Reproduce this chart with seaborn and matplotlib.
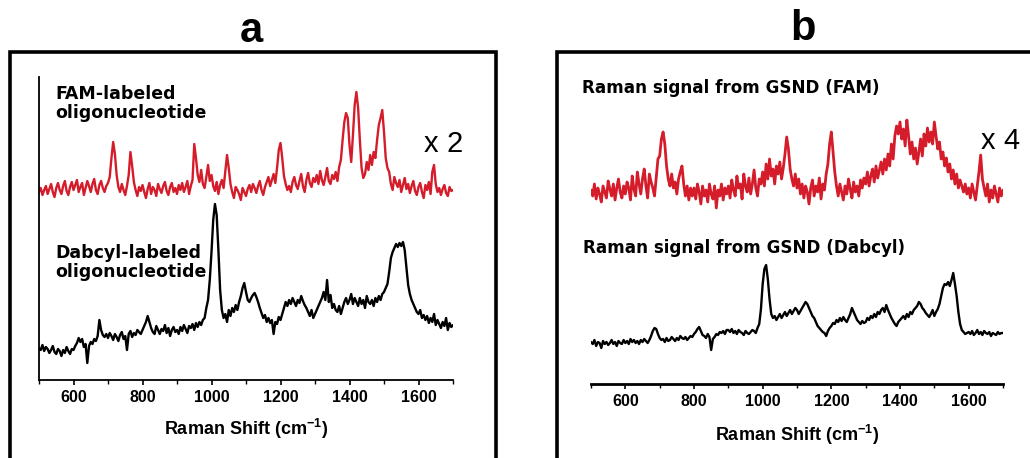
import numpy as np
import pandas as pd
import matplotlib
matplotlib.use("Agg")
import matplotlib.pyplot as plt
from matplotlib.patches import Rectangle
import seaborn as sns

# ---------------- data (Raman shift, cm^-1, step 5) ----------------
shift = list(range(500, 1701, 5))

fam_a = [
    188,192,185,190,194,186,191,196,188,183,192,197,190,186,194,199,189,185,193,198,
    190,195,200,188,193,197,185,192,199,194,188,196,201,190,186,195,199,192,188,194,
    197,203,222,238,226,205,193,188,196,190,185,194,205,228,214,198,190,184,193,189,
    195,188,182,191,197,186,193,190,184,196,191,187,194,198,189,185,193,197,188,192,
    186,195,190,197,188,193,199,186,194,200,236,222,205,198,210,196,192,203,215,199,
    205,194,189,198,186,195,200,192,209,225,212,196,188,182,193,190,186,180,192,188,
    184,191,195,188,196,192,187,194,199,190,185,193,198,203,194,200,206,197,212,230,
    237,222,204,196,190,194,188,198,203,195,191,199,206,194,188,200,207,197,193,202,
    198,205,196,209,200,195,203,212,199,196,205,201,208,199,213,220,240,258,267,262,
    235,218,245,275,288,272,240,212,202,206,218,210,225,215,228,222,240,255,262,270,
    248,222,212,208,196,190,203,197,193,200,188,195,202,191,196,187,194,199,189,185,
    193,197,188,182,195,190,198,186,208,215,196,188,192,185,191,195,187,184,193,189,
    190]

dab_a = [
    32,30,35,29,33,31,27,30,34,28,26,31,29,24,30,27,33,29,26,31,
    30,34,37,42,38,41,33,36,17,34,38,36,41,39,44,60,50,45,43,46,
    42,47,44,40,46,43,39,45,48,41,44,30,46,49,43,47,45,50,48,46,
    50,54,58,64,58,52,48,46,54,50,46,51,49,55,47,52,44,50,53,48,
    50,46,53,49,55,51,47,54,52,56,50,57,53,58,55,60,62,72,80,100,
    128,160,176,165,130,90,70,62,66,58,70,64,72,68,75,70,78,84,92,97,
    88,80,78,82,85,87,83,78,72,67,62,65,58,62,57,60,46,58,56,63,
    60,66,72,78,74,80,76,82,78,74,80,77,84,79,75,72,68,64,70,62,
    66,70,74,78,82,88,80,100,78,85,72,76,70,68,74,66,72,78,82,76,
    80,86,76,82,78,74,82,76,80,72,84,78,76,80,74,82,78,84,80,86,
    88,92,96,108,122,128,132,136,133,137,134,138,130,112,95,86,80,76,72,68,
    66,70,62,65,60,64,57,62,58,66,55,60,56,52,58,54,62,50,57,53,
    55]

fam_b = [
    194,188,200,185,196,190,182,198,192,186,203,195,188,200,184,196,205,192,186,198,
    190,202,196,184,208,195,188,212,200,190,205,215,198,186,210,202,196,188,206,225,
    228,245,252,240,218,205,198,210,196,202,190,205,212,218,200,188,198,184,196,188,
    196,185,200,192,180,198,188,194,182,200,190,185,198,176,194,188,200,184,196,190,
    198,186,204,194,188,208,196,200,185,210,198,192,206,190,200,214,196,188,205,200,
    212,198,220,205,225,208,215,200,218,210,222,205,216,230,247,235,215,205,198,210,
    196,205,190,200,186,198,192,180,196,204,188,198,192,206,185,200,194,210,220,240,
    252,232,212,198,188,200,192,184,198,190,205,195,186,202,192,198,188,204,196,206,
    200,212,198,208,215,202,218,206,214,222,210,225,214,230,218,240,225,248,258,250,
    262,245,255,238,264,248,230,242,225,236,220,232,245,228,250,238,256,242,252,240,
    262,248,235,242,225,232,218,226,212,220,205,214,200,210,196,204,198,192,200,190,
    196,186,200,192,184,198,212,229,205,196,188,200,182,194,186,198,190,182,196,188,
    194]

dab_b = [
    42,40,44,38,42,41,36,43,40,42,39,41,44,40,42,38,43,41,40,44,
    41,43,40,45,42,44,41,43,40,44,42,45,43,41,44,48,53,56,55,50,
    46,44,45,42,46,43,44,47,45,43,46,44,48,46,45,47,44,46,48,47,
    50,52,55,57,53,49,48,46,50,47,34,45,47,50,49,52,51,53,50,54,
    54,52,55,51,53,50,54,52,51,49,53,51,50,52,54,53,51,56,60,75,
    100,115,119,105,85,70,66,68,64,67,70,66,69,72,68,71,74,70,73,76,
    74,70,73,76,79,82,80,76,72,68,66,62,58,56,54,52,51,48,53,56,
    58,61,60,64,62,66,63,67,64,62,66,70,76,72,68,64,62,60,63,61,
    62,66,64,68,66,70,67,72,70,74,76,72,79,74,70,66,63,60,58,62,
    64,66,68,65,70,67,72,70,74,76,78,82,80,76,74,71,69,67,70,74,
    68,72,75,80,88,96,100,99,102,98,104,111,100,88,72,60,54,52,50,51,
    52,50,53,49,51,54,50,52,49,53,51,50,52,48,51,50,49,52,50,51,
    51]

major_ticks = [600, 800, 1000, 1200, 1400, 1600]
minor_ticks = [500, 700, 900, 1100, 1300, 1500, 1700]
xlabel = "Raman Shift (cm$^{\\mathbf{-1}}$)"

# ---------------- figure ----------------
sns.set_style("white")
plt.rcParams['font.family'] = ['Liberation Sans', 'DejaVu Sans']
plt.rcParams['mathtext.fontset'] = 'custom'
plt.rcParams['mathtext.rm'] = 'Liberation Sans:bold'
plt.rcParams['mathtext.bf'] = 'Liberation Sans:bold'
plt.rcParams['text.color'] = 'black'
plt.rcParams['axes.labelcolor'] = 'black'
plt.rcParams['xtick.color'] = 'black'
plt.rcParams['axes.edgecolor'] = 'black'

W, H = 1030, 458
fig = plt.figure(figsize=(W / 100, H / 100), dpi=100)
fig.patch.set_facecolor("white")

def fx(x):
    return x / W

def fy(y):
    return 1 - y / H

RED = "#d41c2a"
ANN = ['DejaVu Sans']

# panel frames
fig.patches.append(Rectangle((fx(10), fy(470)), fx(496) - fx(10), fy(52) - fy(470),
                             transform=fig.transFigure, fill=False, lw=2.6,
                             edgecolor="black", clip_on=False))
fig.patches.append(Rectangle((fx(557), fy(470)), fx(1060) - fx(557), fy(52) - fy(470),
                             transform=fig.transFigure, fill=False, lw=2.6,
                             edgecolor="black", clip_on=False))

# panel letters
fig.text(fx(251), fy(31), "a", ha="center", va="center", fontsize=30, fontweight="bold")
fig.text(fx(803), fy(29), "b", ha="center", va="center", fontsize=30, fontweight="bold")

# ---- panel a ----
ax1 = fig.add_axes([fx(39), fy(380), fx(453) - fx(39), fy(77) - fy(380)])
dfa = pd.DataFrame({"shift": shift, "fam": fam_a, "dab": dab_a})
sns.lineplot(data=dfa, x="shift", y="fam", ax=ax1, color=RED, linewidth=1.7)
sns.lineplot(data=dfa, x="shift", y="dab", ax=ax1, color="black", linewidth=1.7)
ax1.set_xlim(500, 1700)
ax1.set_ylim(0, 303)
ax1.set_facecolor("none")
for s in ["top", "right"]:
    ax1.spines[s].set_visible(False)
ax1.spines["left"].set_linewidth(1.3)
ax1.spines["bottom"].set_linewidth(1.3)
ax1.set_yticks([])
ax1.set_ylabel("")

# ---- panel b ----
ax2 = fig.add_axes([fx(591), fy(384), fx(1003) - fx(591), fy(77) - fy(384)])
dfb = pd.DataFrame({"shift": shift, "fam": fam_b, "dab": dab_b})
sns.lineplot(data=dfb, x="shift", y="fam", ax=ax2, color=RED, linewidth=2.0)
sns.lineplot(data=dfb, x="shift", y="dab", ax=ax2, color="black", linewidth=1.7)
ax2.set_xlim(500, 1700)
ax2.set_ylim(0, 307)
ax2.set_facecolor("none")
for s in ["top", "right", "left"]:
    ax2.spines[s].set_visible(False)
ax2.spines["bottom"].set_linewidth(2.0)
ax2.set_yticks([])
ax2.set_ylabel("")

for ax in (ax1, ax2):
    ax.set_xticks(major_ticks)
    ax.set_xticks(minor_ticks, minor=True)
    ax.tick_params(axis="x", which="major", direction="out", length=3.5, width=1.2,
                   labelsize=11.5, pad=4, bottom=True, colors="black")
    ax.tick_params(axis="x", which="minor", direction="out", length=3, width=1.0,
                   bottom=True, colors="black")
    for lab in ax.get_xticklabels():
        lab.set_fontweight("bold")
    ax.set_xlabel(xlabel, fontsize=13, fontweight="bold", labelpad=8, color="black")
ax2.xaxis.labelpad = 10

# annotations panel a
fig.text(fx(55), fy(85), "FAM-labeled\noligonucleotide", ha="left", va="top",
         fontsize=12.5, fontweight="bold", linespacing=1.1, family=ANN)
fig.text(fx(55), fy(244), "Dabcyl-labeled\noligonucleotide", ha="left", va="top",
         fontsize=12.5, fontweight="bold", linespacing=1.1, family=ANN)
fig.text(fx(424), fy(144), "x", ha="left", va="center", fontsize=21)
fig.text(fx(446), fy(144), "2", ha="left", va="center", fontsize=21)

# annotations panel b
fig.text(fx(582), fy(88), "Raman signal from GSND (FAM)", ha="left", va="center",
         fontsize=12.1, fontweight="bold", family=ANN)
fig.text(fx(583), fy(248), "Raman signal from GSND (Dabcyl)", ha="left", va="center",
         fontsize=12.1, fontweight="bold", family=ANN)
fig.text(fx(981), fy(141), "x", ha="left", va="center", fontsize=21)
fig.text(fx(1003), fy(141), "4", ha="left", va="center", fontsize=21)

fig.savefig("out.png", dpi=100, facecolor="white")
